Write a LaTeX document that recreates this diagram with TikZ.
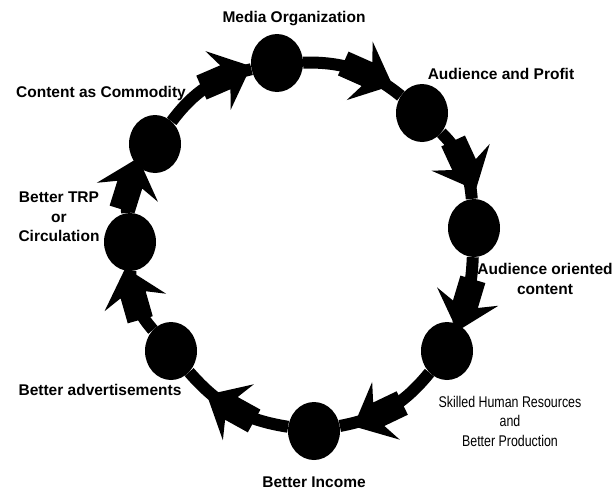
\documentclass[tikz,border=0pt]{standalone}
\usepackage{fontspec}
\setmainfont{Liberation Sans}
\newfontfamily\narrowsans[FakeStretch=0.8]{Liberation Sans}
\usetikzlibrary{shapes.geometric,decorations.markings}

\tikzset{
  stage/.style={ellipse, fill=black, draw=none, inner sep=0pt,
                minimum width=52pt, minimum height=58pt},
  % thick connector with a block arrow placed at the given fraction
  ring/.style={line width=12pt, black,
    postaction={decorate, decoration={markings,
      mark=at position #1 with {
        \fill[black] (-24,-13) -- (2,-13) -- (-6,-32) -- (30,0)
                     -- (-6,32) -- (2,13) -- (-24,13) -- cycle;}}}},
  ring/.default=0.5,
  lbl/.style={font=\fontsize{15.5}{19.5}\selectfont\bfseries, align=center, inner sep=0pt},
  lblnarrow/.style={font=\fontsize{15.5}{19.5}\selectfont\narrowsans, align=center, inner sep=0pt}
}

\begin{document}
\begin{tikzpicture}[x=1pt, y=-1pt]
  \useasboundingbox (0,0) rectangle (613,490);

  % stages of the cycle
  \node[stage] (media)   at (277,63)  {};
  \node[stage] (profit)  at (422,113) {};
  \node[stage] (content) at (474,228) {};
  \node[stage] (skilled) at (447,351) {};
  \node[stage] (income)  at (314,431) {};
  \node[stage] (adverts) at (171,351) {};
  \node[stage] (trp)     at (130,242) {};
  \node[stage] (commod)  at (155,144) {};

  % connectors with block arrows, clockwise
  \draw[ring=0.6]  (media)   to[bend left=20] (profit);
  \draw[ring=0.5]  (profit)  to[bend left=20] (content);
  \draw[ring=0.66] (content) to[bend left=10] (skilled);
  \draw[ring=0.6]  (skilled) to[bend left=20] (income);
  \draw[ring=0.5]  (income)  to[bend left=20] (adverts);
  \draw[ring=0.6]  (adverts) to[bend left=20] (trp);
  \draw[ring=0.55] (trp)     to[bend left=20] (commod);
  \draw[ring=0.7]  (commod)  to[bend left=20] (media);

  % labels
  \node[lbl] (tMedia)   at (294,19)  {Media Organization};
  \node[lbl] (tProfit)  at (501,74)  {Audience and Profit};
  \node[lbl] (tContent) at (545,279) {Audience oriented\\content};
  \node[lblnarrow] (tSkilled) at (510,421) {Skilled Human Resources\\and\\Better Production};
  \node[lbl] (tIncome)  at (314,482) {Better Income};
  \node[lbl] (tAdverts) at (100,390) {Better advertisements};
  \node[lbl] (tTrp)     at (59,217)  {Better TRP\\or\\Circulation};
  \node[lbl] (tCommod)  at (101,93)  {Content as Commodity};
\end{tikzpicture}
\end{document}
